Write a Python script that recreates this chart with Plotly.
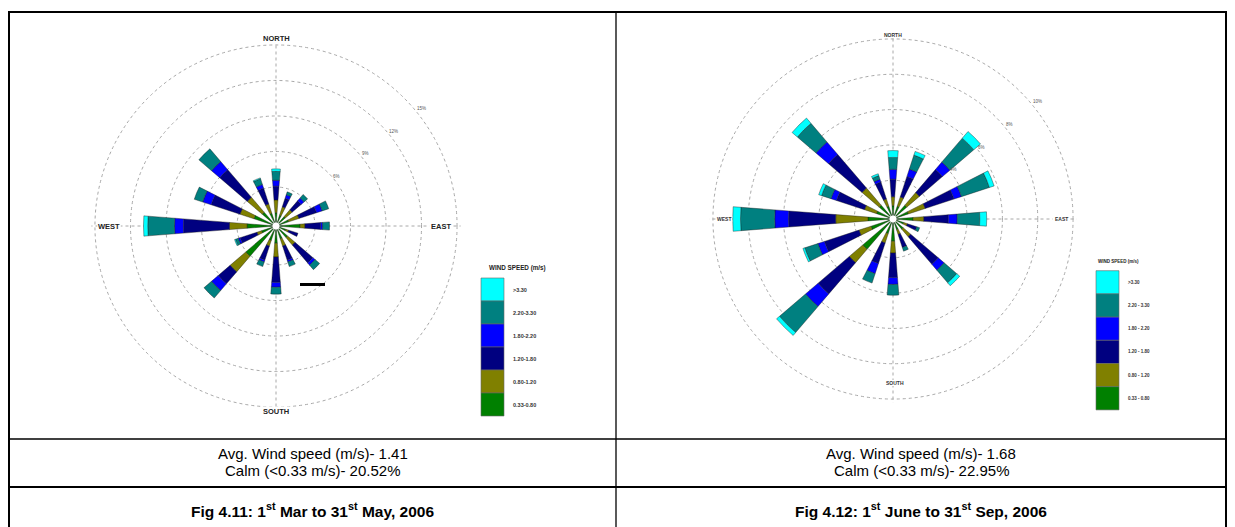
import math
import plotly.graph_objects as go

W, H = 1235, 527

directions = [0, 22.5, 45, 67.5, 90, 112.5, 135, 157.5, 180, 202.5, 225, 247.5, 270, 292.5, 315, 337.5]
speed_classes = ["0.33-0.80", "0.80-1.20", "1.20-1.80", "1.80-2.20", "2.20-3.30", ">3.30"]
colors = ["#008000", "#808000", "#000080", "#0000FF", "#008080", "#00FFFF"]

# Fig 4.11 (Mar-May 2006): frequency (%) per direction for each speed class
mar_may_033_080 = [0.83, 0.66, 0.75, 0.83, 1.74, 0.58, 0.99, 0.83, 1.16, 0.99, 3.07, 0.99, 2.15, 1.66, 1.24, 0.83]
mar_may_080_120 = [1.08, 0.75, 0.75, 0.91, 0.41, 0.25, 0.83, 0.66, 1.16, 0.50, 1.74, 0.41, 1.49, 1.24, 1.66, 0.83]
mar_may_120_180 = [1.16, 0.75, 1.00, 1.57, 1.33, 0.83, 1.99, 1.24, 2.15, 1.24, 1.33, 1.49, 3.89, 2.57, 3.07, 1.41]
mar_may_180_220 = [0.50, 0.33, 0.33, 0.50, 0.17, 0.00, 0.25, 0.17, 0.41, 0.17, 0.75, 0.17, 0.75, 0.75, 0.91, 0.33]
mar_may_220_330 = [0.75, 0.25, 0.39, 0.58, 0.58, 0.00, 0.50, 0.41, 0.58, 0.41, 0.83, 0.25, 2.26, 0.75, 1.41, 0.50]
mar_may_gt_330 = [0.21, 0.00, 0.00, 0.00, 0.00, 0.00, 0.00, 0.00, 0.00, 0.00, 0.00, 0.08, 0.36, 0.00, 0.00, 0.08]

# Fig 4.12 (Jun-Sep 2006)
jun_sep_033_080 = [0.56, 0.56, 0.83, 0.72, 0.94, 0.44, 0.56, 0.44, 1.06, 0.67, 2.06, 1.11, 1.22, 0.78, 0.83, 0.56]
jun_sep_080_120 = [0.50, 0.56, 0.94, 1.00, 0.61, 0.22, 0.56, 0.28, 0.67, 0.56, 1.00, 0.72, 1.83, 0.72, 1.28, 0.44]
jun_sep_120_180 = [1.00, 1.22, 1.72, 1.72, 1.39, 0.56, 2.06, 0.78, 1.39, 1.22, 2.33, 2.06, 2.67, 1.67, 2.50, 1.00]
jun_sep_180_220 = [0.56, 0.44, 0.56, 0.44, 0.50, 0.00, 0.44, 0.00, 0.39, 0.61, 0.94, 0.39, 0.78, 0.33, 0.94, 0.17]
jun_sep_220_330 = [0.67, 0.83, 1.78, 1.67, 1.28, 0.17, 0.94, 0.22, 0.61, 0.56, 1.94, 0.78, 1.94, 0.56, 1.39, 0.22]
jun_sep_gt_330 = [0.39, 0.22, 0.50, 0.28, 0.39, 0.00, 0.22, 0.00, 0.00, 0.00, 0.22, 0.11, 0.44, 0.17, 0.39, 0.11]

left_rings = [3, 6, 9, 12, 15]
left_ring_labels = ["3%", "6%", "9%", "12%", "15%"]
right_rings = [2, 4, 6, 8, 10]
right_ring_labels = ["2%", "4%", "6%", "8%", "10%"]

compass_labels = ["NORTH", "EAST", "SOUTH", "WEST"]
legend_title = "WIND SPEED (m/s)"
left_legend_labels = [">3.30", "2.20-3.30", "1.80-2.20", "1.20-1.80", "0.80-1.20", "0.33-0.80"]
right_legend_labels = [">3.30", "2.20 - 3.30", "1.80 - 2.20", "1.20 - 1.80", "0.80 - 1.20", "0.33 - 0.80"]

avg_left, calm_left = "1.41", "20.52%"
avg_right, calm_right = "1.68", "22.95%"

left_series = [mar_may_033_080, mar_may_080_120, mar_may_120_180, mar_may_180_220, mar_may_220_330, mar_may_gt_330]
right_series = [jun_sep_033_080, jun_sep_080_120, jun_sep_120_180, jun_sep_180_220, jun_sep_220_330, jun_sep_gt_330]


def px(x):
    return x / W


def py(y):
    return 1 - y / H


fig = go.Figure()
for sub, series in (("polar", left_series), ("polar2", right_series)):
    for name, vals, col in zip(speed_classes, series, colors):
        fig.add_trace(go.Barpolar(
            r=vals, theta=directions, width=8.8, name=name, subplot=sub,
            marker=dict(color=col, line=dict(color="#1a1a1a", width=0.4)),
            showlegend=False, hoverinfo="r+theta+name"))


def polar_layout(cx, cy, rpx, rmax, rings):
    half_x = rpx / W
    half_y = rpx / H
    return dict(
        domain=dict(x=[px(cx) - half_x, px(cx) + half_x], y=[py(cy) - half_y, py(cy) + half_y]),
        bgcolor="white",
        hole=0.019,
        barmode="stack",
        radialaxis=dict(range=[0, rmax], tickmode="array", tickvals=rings, showticklabels=False,
                        showline=False, ticks="",
                        gridcolor="#a8a8a8", griddash="dot", gridwidth=1, layer="below traces"),
        angularaxis=dict(rotation=90, direction="clockwise", tickmode="array",
                         tickvals=[0, 90, 180, 270], showticklabels=False, ticks="",
                         showline=False, gridcolor="#a8a8a8", griddash="dot", gridwidth=1,
                         layer="below traces"),
    )


fig.update_layout(
    width=W, height=H, margin=dict(l=0, r=0, t=0, b=0),
    paper_bgcolor="white", plot_bgcolor="white",
    polar=polar_layout(276, 226, 184.6, 15.3, left_rings),
    polar2=polar_layout(893, 219, 183.6, 10.2, right_rings),
)

ann = []
shapes = []
sans = "Liberation Sans, Arial, sans-serif"


def text(x, y, t, size, color="black", anchor="center"):
    ann.append(dict(x=px(x), y=py(y), xref="paper", yref="paper", text=t, showarrow=False,
                    xanchor=anchor, yanchor="middle", font=dict(size=size, color=color, family=sans)))


def white_box(x, y, w, h):
    shapes.append(dict(type="rect", xref="paper", yref="paper", x0=px(x - w / 2), x1=px(x + w / 2),
                       y0=py(y + h / 2), y1=py(y - h / 2), fillcolor="white", line=dict(width=0),
                       layer="above"))


# ring percentage labels, placed just outside each ring on the NE side
for cx, cy, outer_px, rings, labels in [(276, 226, 181, left_rings, left_ring_labels),
                                        (893, 219, 180, right_rings, right_ring_labels)]:
    for rv, lab in zip(rings[1:], labels[1:]):
        rr = outer_px * rv / rings[-1] + 6
        a = math.radians(51)
        text(cx + rr * math.sin(a), cy - rr * math.cos(a), lab, 4.5, "#555")

# compass labels (white boxes hide the crosshair behind the text)
for (x, y), t in zip([(276, 39), (441, 226), (276, 411), (109, 226)], compass_labels):
    white_box(x, y, 7.5 * 0.72 * len(t) + 2, 9)
    text(x, y, "<b>%s</b>" % t, 7.5, "#222")
for (x, y), t in zip([(893, 35), (1061, 219), (895, 383), (724, 219)], compass_labels):
    white_box(x, y, 5 * 0.72 * len(t) + 2, 6)
    text(x, y, "<b>%s</b>" % t, 5, "#333")


# legends
def legend(x0, y0, bw, bh, labels, tx, title_xy, tsize, fsize):
    order = list(range(5, -1, -1))
    for i, k in enumerate(order):
        shapes.append(dict(type="rect", xref="paper", yref="paper",
                           x0=px(x0), x1=px(x0 + bw), y0=py(y0 + (i + 1) * bh), y1=py(y0 + i * bh),
                           fillcolor=colors[k], line=dict(color="#666", width=0.6), layer="above"))
        text(tx, y0 + (i + 0.5) * bh, "<b>%s</b>" % labels[i], fsize, "#333", anchor="left")
    text(title_xy[0], title_xy[1], "<b>%s</b>" % legend_title, tsize, "#222")


legend(481, 278, 23, 23, left_legend_labels, 511, (517, 268), 6.3, 5.5)
legend(1096, 270.7, 23, 23.2, right_legend_labels, 1126, (1118, 262), 4.5, 4.5)

# stray scale mark in left rose
shapes.append(dict(type="line", xref="paper", yref="paper", x0=px(300), x1=px(325), y0=py(284.5), y1=py(284.5),
                   line=dict(color="black", width=3)))

# table lines
blk = "black"
shapes += [
    dict(type="line", xref="paper", yref="paper", x0=px(8), x1=px(1227), y0=py(12), y1=py(12), line=dict(color=blk, width=2)),
    dict(type="line", xref="paper", yref="paper", x0=px(9), x1=px(9), y0=py(11), y1=py(540), line=dict(color=blk, width=2)),
    dict(type="line", xref="paper", yref="paper", x0=px(1226), x1=px(1226), y0=py(11), y1=py(540), line=dict(color=blk, width=2)),
    dict(type="line", xref="paper", yref="paper", x0=px(616), x1=px(616), y0=py(12), y1=py(540), line=dict(color=blk, width=1.3)),
    dict(type="line", xref="paper", yref="paper", x0=px(9), x1=px(1226), y0=py(439), y1=py(439), line=dict(color=blk, width=1.6)),
    dict(type="line", xref="paper", yref="paper", x0=px(9), x1=px(1226), y0=py(487), y1=py(487), line=dict(color=blk, width=2)),
]

for cx, avg, calm, cap in [(312.5, avg_left, calm_left, "Fig 4.11: 1<sup>st</sup> Mar to 31<sup>st</sup> May, 2006"),
                           (921, avg_right, calm_right, "Fig 4.12: 1<sup>st</sup> June to 31<sup>st</sup> Sep, 2006")]:
    text(cx, 453, "Avg. Wind speed (m/s)- %s" % avg, 15)
    text(cx, 470, "Calm (<0.33 m/s)- %s" % calm, 15)
    text(cx, 510, "<b>%s</b>" % cap, 15.5)

fig.update_layout(annotations=ann, shapes=shapes)
fig.write_html("out.html", config={"displayModeBar": False},
               post_script="document.body.style.margin='0';document.body.style.padding='0';")
